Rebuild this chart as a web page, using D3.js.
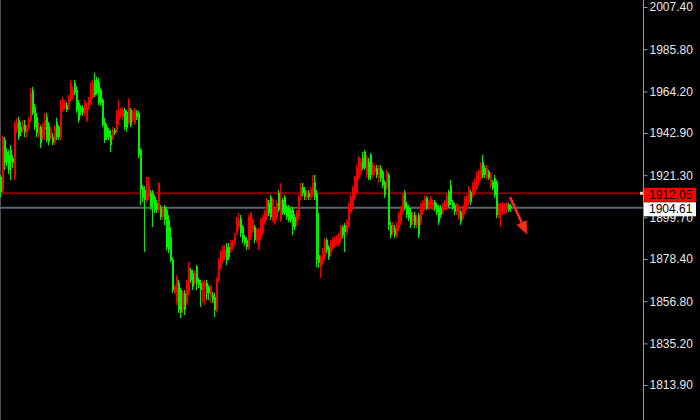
<!DOCTYPE html>
<html><head><meta charset="utf-8">
<script src="https://cdn.jsdelivr.net/npm/d3@7"></script>
<style>html,body{margin:0;padding:0;background:#000;}svg{display:block;}</style>
</head><body>
<svg id="c" width="700" height="420"></svg>
<script>
const opens = [1920.4,1913.7,1939.3,1933.2,1931.6,1934.2,1930.1,1920.4,1944.4,1949.6,1946.0,1944.4,1947.0,1942.9,1946.0,1949.6,1964.9,1956.2,1951.1,1941.8,
1946.0,1940.8,1944.4,1951.1,1947.0,1940.3,1940.8,1938.3,1948.6,1946.0,1940.8,1954.7,1955.7,1957.2,1956.2,1959.8,1961.3,1968.5,1964.9,1958.3,
1956.2,1955.7,1953.2,1949.6,1956.2,1958.3,1961.3,1970.0,1970.0,1969.0,1964.9,1959.8,1948.6,1946.0,1944.4,1941.8,1940.3,1944.4,1944.4,1949.6,
1952.1,1951.1,1954.7,1953.7,1948.1,1954.7,1949.6,1948.1,1953.2,1953.2,1934.2,1915.2,1913.7,1908.6,1910.1,1912.2,1912.2,1910.1,1907.1,1903.5,
1905.0,1899.9,1905.0,1903.5,1898.4,1889.6,1877.9,1861.5,1855.9,1866.2,1862.5,1852.3,1861.0,1855.9,1861.0,1872.8,1871.3,1866.2,1874.3,1867.7,
1866.2,1862.5,1864.1,1866.2,1864.1,1858.9,1859.9,1858.9,1852.3,1867.7,1874.3,1877.9,1879.3,1884.5,1884.5,1883.0,1884.5,1886.6,1891.7,1894.8,
1899.3,1894.8,1889.6,1888.1,1884.5,1889.6,1893.2,1894.8,1888.1,1884.5,1889.6,1891.7,1896.9,1899.9,1907.1,1910.1,1898.4,1896.9,1899.9,1912.2,
1898.4,1908.6,1910.1,1905.0,1904.5,1903.5,1903.5,1899.9,1896.9,1899.9,1910.1,1915.2,1913.7,1910.1,1912.2,1910.1,1911.1,1917.8,1912.2,1880.4,
1874.3,1876.4,1879.3,1888.1,1884.5,1881.5,1884.5,1885.5,1886.6,1886.6,1888.1,1894.8,1895.8,1892.2,1895.8,1902.5,1904.5,1909.7,1912.7,1919.8,
1923.0,1930.1,1933.2,1921.4,1928.1,1931.6,1921.4,1923.0,1925.0,1919.8,1925.0,1923.0,1917.8,1914.7,1921.4,1895.8,1892.2,1894.2,1890.6,1894.2,
1897.4,1902.5,1912.2,1906.0,1904.5,1902.5,1897.4,1900.9,1895.8,1900.9,1897.4,1902.5,1904.5,1909.7,1904.5,1906.0,1904.5,1907.6,1906.0,1904.5,
1904.5,1902.5,1904.5,1904.5,1912.7,1916.2,1907.6,1906.0,1902.5,1899.3,1902.5,1899.3,1902.5,1904.5,1907.6,1912.7,1911.1,1912.7,1914.7,1917.8,
1919.8,1928.1,1925.0,1919.8,1923.0,1916.2,1917.8,1919.8,1917.8,1900.9,1902.5,1902.5,1903.0,1903.5,1906.0,1905.5];
const closes = [1912.7,1940.8,1927.6,1928.1,1924.0,1928.1,1927.6,1947.0,1948.1,1940.8,1943.4,1947.0,1943.4,1945.5,1949.6,1963.4,1953.2,1946.0,1942.9,1946.0,
1937.8,1946.0,1949.6,1939.3,1938.3,1944.4,1937.8,1946.0,1940.8,1940.8,1958.8,1959.8,1958.3,1954.7,1960.8,1968.5,1964.9,1963.4,1954.7,1949.6,
1953.7,1953.2,1958.3,1956.2,1959.8,1964.9,1968.5,1962.3,1963.4,1958.3,1958.3,1947.0,1939.3,1940.8,1940.8,1936.7,1944.4,1942.9,1953.2,1953.7,
1954.7,1954.7,1946.0,1945.5,1959.8,1947.0,1953.2,1954.7,1951.1,1931.6,1913.7,1909.7,1908.6,1912.2,1917.3,1905.0,1907.1,1903.5,1903.5,1917.3,
1899.9,1904.5,1898.4,1884.5,1883.0,1877.9,1862.5,1864.1,1869.2,1852.3,1850.8,1861.0,1852.3,1866.2,1874.3,1867.7,1864.1,1871.3,1866.2,1865.1,
1862.5,1866.2,1866.2,1861.0,1861.0,1864.1,1857.4,1852.3,1867.7,1877.9,1881.5,1883.0,1883.0,1877.9,1879.3,1886.6,1886.6,1889.6,1898.4,1898.4,
1891.7,1888.1,1886.6,1884.5,1899.9,1902.0,1898.4,1888.1,1893.2,1893.2,1898.4,1899.9,1902.0,1908.6,1902.0,1899.9,1908.6,1903.5,1907.1,1903.5,
1908.6,1902.0,1902.0,1899.9,1898.4,1898.4,1894.8,1894.8,1902.0,1910.1,1915.2,1912.2,1910.1,1912.2,1910.1,1913.7,1917.3,1910.1,1877.9,1876.4,
1879.3,1883.0,1888.1,1883.0,1879.3,1886.6,1888.1,1888.6,1889.6,1889.6,1894.8,1890.6,1892.2,1897.4,1906.0,1909.7,1914.7,1919.8,1925.0,1930.1,
1928.1,1925.0,1925.0,1930.1,1919.8,1921.4,1926.5,1925.0,1921.4,1925.0,1919.8,1916.2,1911.1,1923.0,1895.8,1890.6,1895.8,1890.6,1895.8,1900.9,
1904.5,1911.1,1904.5,1900.9,1899.3,1895.8,1900.9,1895.8,1899.3,1890.6,1906.0,1907.6,1909.7,1904.5,1907.6,1909.7,1907.6,1904.5,1902.5,1897.4,
1900.9,1906.0,1907.6,1911.1,1906.0,1907.6,1904.5,1902.5,1906.0,1904.5,1897.4,1904.5,1909.7,1909.7,1914.7,1907.6,1916.2,1917.8,1921.4,1923.0,
1926.5,1921.4,1921.4,1925.0,1919.8,1921.4,1914.7,1911.1,1900.9,1906.0,1906.0,1906.0,1905.5,1906.6,1903.5,1904.61];
const highs = [1921.4,1941.8,1940.8,1935.2,1934.2,1936.7,1931.6,1948.6,1950.6,1951.1,1948.6,1949.6,1949.6,1947.0,1951.1,1965.9,1966.4,1957.8,1953.2,1948.6,
1947.0,1948.1,1953.2,1953.2,1948.6,1946.0,1942.9,1947.0,1950.6,1947.0,1959.8,1961.3,1959.8,1958.8,1962.3,1970.0,1966.9,1970.0,1966.9,1959.8,
1957.2,1957.2,1959.8,1958.3,1961.3,1969.0,1970.0,1973.7,1971.6,1971.1,1965.9,1960.8,1950.6,1947.6,1945.5,1944.4,1946.0,1945.5,1954.7,1959.8,
1955.7,1956.2,1955.7,1954.7,1960.8,1955.7,1954.7,1955.7,1954.7,1954.2,1935.2,1916.2,1915.7,1920.4,1920.4,1913.7,1913.7,1911.1,1908.6,1917.8,
1906.0,1905.5,1906.0,1905.0,1900.9,1894.8,1879.3,1865.1,1870.2,1867.7,1863.6,1862.5,1862.5,1867.7,1876.9,1873.8,1872.8,1872.8,1875.3,1868.7,
1867.7,1867.2,1867.7,1867.7,1865.1,1865.1,1861.5,1861.0,1869.2,1878.8,1883.0,1885.5,1885.5,1886.6,1886.6,1888.1,1888.1,1891.7,1899.9,1902.0,
1900.9,1895.8,1890.6,1889.6,1900.9,1902.5,1899.3,1895.8,1894.2,1894.2,1899.3,1900.9,1903.5,1909.7,1908.6,1911.1,1909.7,1904.5,1908.6,1913.7,
1917.3,1909.7,1911.1,1906.0,1906.0,1905.0,1905.0,1901.4,1903.5,1911.1,1917.3,1917.3,1915.2,1913.7,1913.7,1915.2,1921.4,1921.4,1913.7,1902.0,
1880.4,1884.0,1889.1,1889.1,1885.5,1888.1,1889.6,1890.1,1890.6,1891.7,1895.8,1895.8,1896.9,1898.4,1907.1,1911.1,1915.7,1920.9,1926.5,1931.1,
1930.1,1933.2,1934.2,1931.6,1930.1,1932.7,1928.1,1926.5,1926.5,1926.5,1926.5,1924.0,1918.8,1924.0,1922.5,1897.4,1897.4,1895.8,1897.4,1902.5,
1905.5,1912.2,1913.7,1907.6,1906.0,1904.5,1902.5,1902.5,1900.9,1902.0,1907.1,1908.6,1911.1,1910.6,1908.6,1910.6,1908.6,1908.6,1907.1,1906.0,
1906.0,1907.1,1908.6,1912.2,1913.7,1918.8,1908.6,1907.1,1907.1,1906.0,1903.5,1906.0,1910.6,1911.1,1915.7,1913.7,1917.8,1919.8,1923.0,1924.0,
1928.1,1931.6,1926.5,1926.5,1924.0,1923.0,1918.8,1921.4,1918.8,1907.1,1907.1,1907.6,1907.1,1907.6,1907.1,1906.6];
const lows = [1910.1,1912.2,1924.0,1926.0,1922.0,1918.8,1925.0,1918.8,1942.9,1939.3,1941.3,1942.9,1940.8,1940.3,1944.4,1948.6,1952.1,1944.4,1940.8,1940.3,
1935.2,1939.3,1939.3,1938.3,1936.7,1939.3,1936.7,1936.7,1939.3,1939.3,1939.3,1953.7,1954.7,1953.7,1954.7,1958.8,1960.3,1962.3,1953.2,1948.1,
1952.1,1951.6,1951.6,1948.6,1954.7,1957.2,1960.3,1961.3,1962.3,1957.2,1956.7,1946.0,1937.8,1939.3,1939.3,1933.2,1939.3,1941.8,1942.9,1947.0,
1950.6,1949.6,1944.4,1943.4,1947.0,1946.0,1948.6,1947.0,1949.6,1930.1,1906.0,1907.6,1882.0,1907.1,1908.6,1903.5,1894.8,1902.0,1902.0,1902.0,
1898.4,1898.4,1895.8,1883.0,1881.5,1876.9,1861.0,1860.5,1854.8,1850.8,1848.2,1850.8,1849.7,1854.8,1859.9,1866.2,1862.5,1865.1,1862.5,1863.6,
1853.9,1856.4,1854.8,1857.4,1857.4,1855.9,1855.9,1848.7,1851.3,1866.7,1872.8,1876.4,1877.9,1875.3,1877.9,1881.5,1883.0,1885.5,1890.6,1893.2,
1889.6,1886.6,1885.0,1883.0,1883.0,1888.1,1891.7,1886.6,1886.6,1883.0,1888.1,1890.6,1895.8,1898.4,1900.4,1898.4,1897.4,1895.8,1898.4,1902.5,
1897.4,1900.9,1900.9,1898.4,1897.4,1896.9,1890.6,1893.2,1895.3,1898.4,1908.6,1910.6,1908.6,1908.6,1908.6,1908.6,1910.1,1908.6,1874.3,1873.8,
1868.7,1875.3,1877.9,1881.5,1877.9,1879.9,1883.0,1884.0,1885.0,1885.0,1886.6,1889.1,1882.0,1890.6,1894.2,1901.4,1903.5,1908.6,1911.7,1918.8,
1921.4,1924.0,1924.0,1919.8,1918.8,1918.8,1919.8,1921.4,1919.8,1917.3,1917.8,1914.7,1909.7,1913.7,1893.2,1889.1,1890.6,1889.1,1889.1,1892.7,
1895.8,1900.9,1903.5,1899.3,1897.9,1894.2,1895.8,1894.2,1894.2,1889.1,1895.8,1900.9,1903.5,1903.5,1903.5,1904.5,1903.5,1903.0,1900.9,1895.8,
1899.3,1901.4,1903.5,1903.5,1904.5,1906.0,1903.5,1900.9,1900.9,1898.4,1895.8,1898.4,1900.9,1903.5,1906.0,1906.0,1909.7,1911.1,1913.7,1916.2,
1918.8,1919.8,1919.8,1918.8,1918.8,1914.7,1913.7,1909.7,1899.3,1899.3,1894.8,1900.9,1901.4,1902.0,1902.5,1902.5];
const tickLabels = [2007.40,1985.80,1964.20,1942.90,1921.30,1899.70,1878.40,1856.80,1835.20,1813.90];
const redLevel = 1912.05;
const bidLevel = 1904.61;
const arrowFrom = {i: 254.5, p: 1910.1};
const arrowTo = {i: 263, p: 1891.0};

const W = 700, H = 420, axisX = 643;
const svg = d3.select('#c');
svg.append('rect').attr('width', W).attr('height', H).attr('fill', '#000');

const n = opens.length;
const x = d3.scaleLinear().domain([0, n - 1]).range([1, 1 + 2 * (n - 1)]);
const y = d3.scaleLinear().domain([1813.9, 2007.4]).range([385, 7]);

const candles = opens.map((o, i) => ({i, o, c: closes[i], h: Math.max(highs[i], o, closes[i]), l: Math.min(lows[i], o, closes[i])}));
const up = '#f20000', dn = '#00f000';

// left border
svg.append('line').attr('x1', 0.5).attr('x2', 0.5).attr('y1', 0).attr('y2', H).attr('stroke', '#505050');

// horizontal price lines
svg.append('line').attr('x1', 0).attr('x2', axisX).attr('y1', y(redLevel)).attr('y2', y(redLevel))
  .attr('stroke', '#8a0000').attr('stroke-width', 2);
svg.append('line').attr('x1', 0).attr('x2', axisX).attr('y1', y(bidLevel)).attr('y2', y(bidLevel))
  .attr('stroke', '#5c646e').attr('stroke-width', 2);

const g = svg.append('g');
g.selectAll('line.w').data(candles).join('line').attr('class', 'w')
  .attr('x1', d => Math.round(x(d.i)) - 0.5).attr('x2', d => Math.round(x(d.i)) - 0.5)
  .attr('y1', d => y(d.h)).attr('y2', d => y(d.l))
  .attr('stroke', d => d.c >= d.o ? up : dn).attr('stroke-width', 1);
g.selectAll('rect.b').data(candles).join('rect').attr('class', 'b')
  .attr('x', d => Math.round(x(d.i)) - 1).attr('width', 2)
  .attr('y', d => y(Math.max(d.o, d.c)))
  .attr('height', d => Math.max(1, Math.abs(y(d.o) - y(d.c))))
  .attr('fill', d => d.c >= d.o ? up : dn);

// arrow annotation
const ax1 = x(arrowFrom.i), ay1 = y(arrowFrom.p), ax2 = x(arrowTo.i), ay2 = y(arrowTo.p);
const dx = ax2 - ax1, dy = ay2 - ay1, len = Math.hypot(dx, dy), ux = dx / len, uy = dy / len;
const hl = 13, hw = 5.5;
const bx = ax2 - ux * hl, by = ay2 - uy * hl;
svg.append('line').attr('x1', ax1).attr('y1', ay1).attr('x2', bx).attr('y2', by)
  .attr('stroke', '#ff2a1a').attr('stroke-width', 2.5);
svg.append('path').attr('d', `M${ax2},${ay2}L${bx - uy * hw},${by + ux * hw}L${bx + uy * hw},${by - ux * hw}Z`)
  .attr('fill', '#ff2a1a');

// axis
svg.append('line').attr('x1', axisX + 0.5).attr('x2', axisX + 0.5).attr('y1', 0).attr('y2', H).attr('stroke', '#9a9a9a');
const axis = d3.axisRight(y).tickValues(tickLabels).tickSize(4).tickPadding(2).tickFormat(d => d.toFixed(2));
const ag = svg.append('g').attr('transform', `translate(${axisX + 0.5},0)`).call(axis);
ag.select('.domain').remove();
ag.selectAll('.tick line').attr('stroke', '#9a9a9a');
ag.selectAll('.tick text').attr('fill', '#e8e8e8').attr('font-family', 'Liberation Sans, Arial, sans-serif').attr('font-size', 12);

// price tags
function tag(level, bg) {
  const yy = y(level) + 1.5;
  svg.append('rect').attr('x', axisX + 1).attr('y', yy - 7).attr('width', 52).attr('height', 14).attr('fill', bg);
  svg.append('text').attr('x', axisX + 6).attr('y', yy).attr('dy', '0.35em').attr('fill', '#000')
    .attr('font-family', 'Liberation Sans, Arial, sans-serif').attr('font-size', 12).text(level.toFixed(2));
}
tag(redLevel, '#ff0000');
tag(bidLevel, '#ffffff');
svg.append('rect').attr('x', axisX - 3).attr('y', y(redLevel) - 1.5).attr('width', 3).attr('height', 3)
  .attr('fill', '#ffd0d0');
</script>
</body></html>
